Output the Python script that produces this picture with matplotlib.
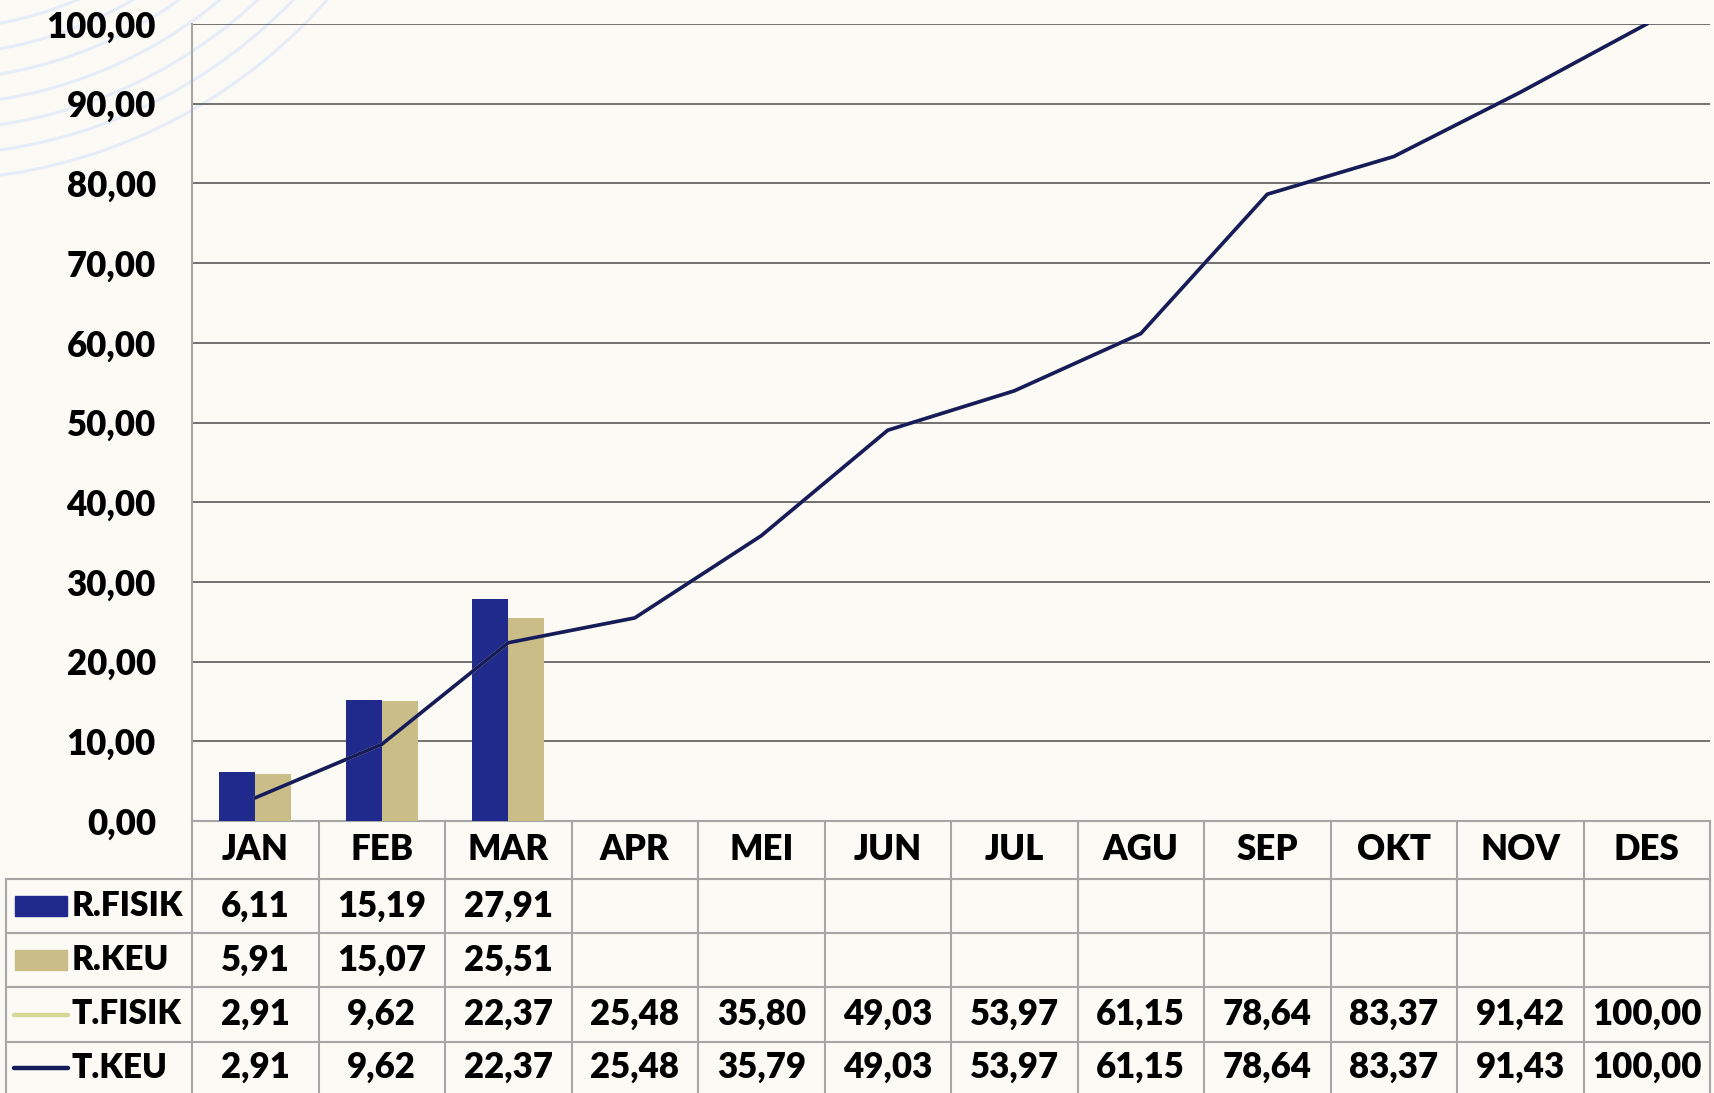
import numpy as np
import matplotlib.pyplot as plt
from matplotlib.patches import Rectangle, Circle

# data
bulan = ['JAN', 'FEB', 'MAR', 'APR', 'MEI', 'JUN', 'JUL', 'AGU', 'SEP', 'OKT', 'NOV', 'DES']
r_fisik = [6.11, 15.19, 27.91]
r_keu = [5.91, 15.07, 25.51]
t_fisik = [2.91, 9.62, 22.37, 25.48, 35.80, 49.03, 53.97, 61.15, 78.64, 83.37, 91.42, 100.00]
t_keu = [2.91, 9.62, 22.37, 25.48, 35.79, 49.03, 53.97, 61.15, 78.64, 83.37, 91.43, 100.00]

c_rfisik = '#1f2a8c'
c_rkeu = '#cbbd88'
c_tfisik = '#d4d894'
c_tkeu = '#161b5b'
c_bg = '#fcfaf5'
c_tab = '#a6a6a6'

plt.rcParams['font.family'] = ['Lato', 'DejaVu Sans']
BERAT = 'heavy'

W, H = 1714, 1093
fig = plt.figure(figsize=(W / 100, H / 100), dpi=100)
fig.patch.set_facecolor(c_bg)

def box(x0, y0, x1, y1):
    # kotak dalam piksel -> koordinat figure
    return [x0 / W, 1 - y1 / H, (x1 - x0) / W, (y1 - y0) / H]

# hiasan lengkung di pojok kiri atas
bg = fig.add_axes([0, 0, 1, 1], zorder=0)
bg.set_xlim(0, W)
bg.set_ylim(H, 0)
bg.axis('off')
for r in range(380, 531, 25):
    bg.add_patch(Circle((-71, -350), r, fill=False, ec='#e6edf8', lw=2.2))

# grafik utama
x = np.arange(len(bulan))
ax = fig.add_axes(box(192, 24, 1710, 821), zorder=2)
ax.set_facecolor('none')
ax.bar(x[:len(r_fisik)] - 0.1425, r_fisik, 0.285, color=c_rfisik, zorder=3)
ax.bar(x[:len(r_keu)] + 0.1425, r_keu, 0.285, color=c_rkeu, zorder=3)
ax.plot(x, t_fisik, color=c_tfisik, lw=2.6, zorder=4)
ax.plot(x, t_keu, color=c_tkeu, lw=2.6, zorder=5)
ax.set_xlim(-0.5, len(bulan) - 0.5)
ax.set_ylim(0, 100)
yt = np.arange(0, 101, 10)
ax.set_yticks(yt)
ax.set_yticklabels([f'{v:.2f}'.replace('.', ',') for v in yt], fontsize=25, fontweight=BERAT)
ax.tick_params(axis='y', length=0, pad=26)
ax.set_xticks([])
ax.grid(axis='y', color='#5a5a5a', lw=1.2, zorder=1)
for s in ['top', 'right']:
    ax.spines[s].set_visible(False)
ax.spines['left'].set_color(c_tab)
ax.spines['bottom'].set_color(c_tab)
ax.spines['left'].set_linewidth(1.5)
ax.spines['bottom'].set_linewidth(1.5)

# tabel data di bawah grafik
col_w = (1710 - 192) / len(bulan)
left_u = -0.5 - (192 - 6) / col_w
tx = fig.add_axes(box(6, 821, 1710, 1093), zorder=1)
tx.set_facecolor('none')
tx.set_xlim(left_u, len(bulan) - 0.5)
tx.set_ylim(1093, 821)
tx.axis('off')

def px(v):
    return -0.5 + (v - 192) / col_w

rows = [879, 933, 987, 1042, 1093]
for i, b in enumerate(bulan):
    tx.text(i, (821 + rows[0]) / 2, b, ha='center', va='center', fontsize=25, fontweight=BERAT)
for k in range(len(bulan) + 1):
    tx.plot([k - 0.5, k - 0.5], [821, 1093], color=c_tab, lw=1.5, clip_on=False)
tx.plot([left_u, left_u], [rows[0], 1093], color=c_tab, lw=1.5, clip_on=False)
for yy in rows[:-1]:
    tx.plot([left_u, len(bulan) - 0.5], [yy, yy], color=c_tab, lw=1.5, clip_on=False)

series = [('R.FISIK', r_fisik, c_rfisik, 'bar'),
          ('R.KEU', r_keu, c_rkeu, 'bar'),
          ('T.FISIK', t_fisik, c_tfisik, 'line'),
          ('T.KEU', t_keu, c_tkeu, 'line')]
for j, (nama, vals, col, jenis) in enumerate(series):
    yc = (rows[j] + rows[j + 1]) / 2
    if jenis == 'bar':
        tx.add_patch(Rectangle((px(15), yc - 10), px(67) - px(15), 20, color=col))
    else:
        tx.plot([px(14), px(68)], [yc, yc], color=col, lw=3.2, solid_capstyle='round')
    tx.text(px(72), yc, nama, ha='left', va='center', fontsize=24, fontweight=BERAT)
    for i, v in enumerate(vals):
        tx.text(i, yc, f'{v:.2f}'.replace('.', ','), ha='center', va='center',
                fontsize=25, fontweight=BERAT)

fig.savefig('out.png', dpi=100, facecolor=c_bg)
